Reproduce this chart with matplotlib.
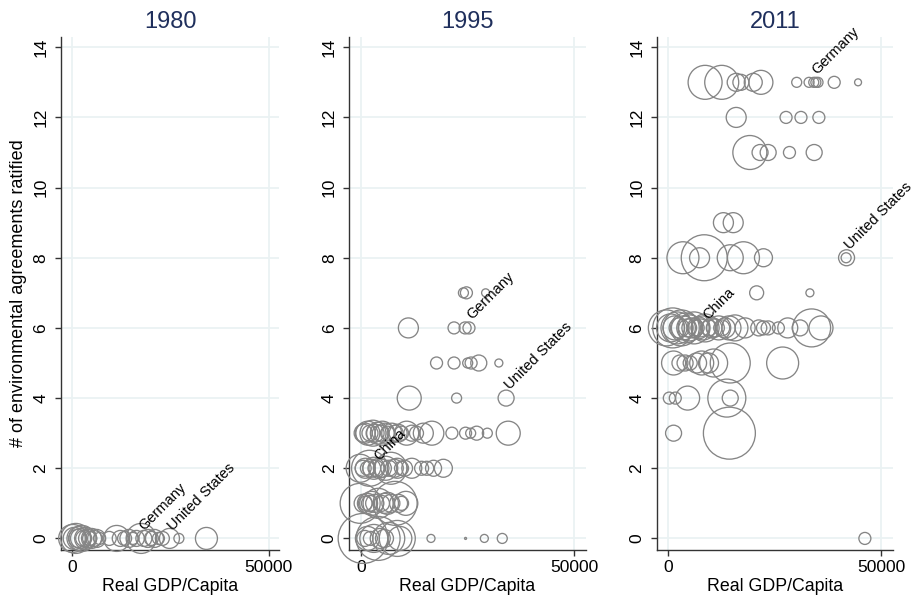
import numpy as np
import matplotlib
matplotlib.use("Agg")
import matplotlib.pyplot as plt

plt.rcParams['font.family'] = ['Liberation Sans', 'DejaVu Sans']

# GDP per capita (thousands), agreements ratified, bubble weight
years = ["1980", "1995", "2011"]

gdp80 = [0.2, 0.6, 1.0, 1.4, 1.8, 2.2, 2.6, 3.0, 3.5, 4.0, 4.5, 5.0, 5.6, 6.3, 7.0,
         9.5, 11.4, 12.3, 13.4, 14.5, 15.5, 16.4, 17.6, 18.3, 19.3, 20.2, 21.0,
         22.0, 23.0, 24.8, 27.2, 34.2]
agr80 = [0] * len(gdp80)
w80 = [196, 121, 225, 81, 144, 100, 169, 64, 121, 81, 49, 100, 64, 81, 36,
       49, 169, 64, 49, 81, 36, 64, 225, 64, 81, 49, 81, 36, 49, 100, 25, 121]

gdp95 = [24.0, 24.7, 29.2,
         11.1, 21.8, 24.4, 25.3,
         17.7, 21.8, 25.0, 25.8, 27.6, 32.3,
         11.3, 22.4, 34.0,
         0.5, 1.0, 1.6, 2.1, 2.8, 3.3, 3.9, 4.5, 5.0, 5.6, 6.2, 7.2, 8.0, 8.7,
         9.5, 10.7, 11.9, 13.0, 14.6, 16.6, 21.3, 24.5, 25.7, 27.1, 29.6, 34.5,
         -0.2, 0.5, 1.0, 1.5, 2.0, 2.5, 3.0, 3.5, 4.2, 5.0, 5.8, 6.5, 7.0, 7.8,
         8.5, 9.5, 10.2, 11.9, 14.2, 15.4, 17.0, 19.3,
         -0.2, 0.5, 1.0, 1.5, 2.0, 2.5, 3.2, 4.0, 4.8, 5.5, 6.2, 7.0, 8.0, 8.8,
         9.5, 10.5,
         0.5, 0.9, 1.5, 2.2, 3.0, 4.0, 4.5, 5.5, 6.5, 8.5, 9.1, 16.4, 24.5,
         28.9, 33.1]
agr95 = ([7] * 3 + [6] * 4 + [5] * 6 + [4] * 3 + [3] * 26 + [2] * 22
         + [1] * 16 + [0] * 15)
w95 = [25, 36, 16,
       100, 36, 36, 36,
       36, 36, 25, 36, 64, 16,
       144, 25, 64,
       81, 100, 144, 64, 169, 81, 121, 64, 144, 100, 49, 100, 64, 81,
       49, 144, 64, 49, 100, 144, 36, 36, 25, 49, 25, 144,
       196, 64, 100, 49, 324, 81, 121, 64, 100, 81, 144, 64, 256, 81,
       100, 49, 64, 100, 49, 49, 64, 81,
       400, 81, 49, 100, 64, 144, 81, 225, 64, 100, 121, 81, 484, 81,
       49, 144,
       625, 64, 144, 49, 196, 484, 100, 81, 256, 324, 144, 16, 1,
       16, 25]

gdp11 = [8.6, 12.5, 15.9, 17.0, 19.9, 21.7, 30.1, 33.0, 34.1, 34.6, 35.1, 38.9, 44.5,
         15.9, 27.6, 31.1, 35.3,
         19.1, 21.5, 23.4, 28.4, 34.2,
         12.9, 15.2,
         3.4, 7.3, 8.4, 14.5, 17.6, 22.3, 41.7, 41.8,
         20.7, 33.2,
         -0.5, 0.5, 1.0, 1.5, 2.0, 2.5, 3.0, 3.5, 4.0, 4.5, 5.0, 5.5, 6.0, 6.5,
         7.0, 7.5, 8.2, 8.6, 9.5, 10.2, 11.0, 11.8, 12.5, 13.3, 14.2,
         15.6, 18.0, 21.2, 22.3, 23.4, 25.8, 28.0, 30.9, 33.6, 35.8,
         1.2, 2.7, 3.9, 5.1, 6.6, 7.8, 9.4, 10.6, 14.5, 26.8,
         0.2, 1.6, 4.5, 13.7, 14.5,
         1.2, 14.3,
         46.1]
agr11 = ([13] * 13 + [12] * 4 + [11] * 5 + [9] * 2 + [8] * 8 + [7] * 2
         + [6] * 35 + [5] * 10 + [4] * 5 + [3] * 2 + [0])
w11 = [289, 289, 81, 64, 81, 144, 25, 25, 25, 25, 25, 36, 12,
       100, 36, 36, 36,
       289, 64, 64, 36, 64,
       100, 100,
       256, 100, 529, 169, 256, 81, 25, 64,
       49, 16,
       324, 196, 400, 144, 256, 100, 324, 144, 225, 81, 169, 100, 256, 64,
       121, 81, 144, 196, 64, 100, 81, 144, 64, 100, 144,
       169, 100, 64, 49, 49, 36, 100, 64, 361, 144,
       144, 64, 64, 49, 100, 144, 100, 196, 400, 256,
       36, 36, 144, 361, 64,
       64, 676,
       36]

# labelled countries per panel
lab80 = [("Germany", 17.6, 0), ("United States", 24.8, 0)]
lab95 = [("China", 3.5, 2), ("Germany", 25.3, 6), ("United States", 34.0, 4)]
lab11 = [("China", 8.6, 6), ("Germany", 34.1, 13), ("United States", 41.8, 8)]

panels = [(gdp80, agr80, w80, lab80),
          (gdp95, agr95, w95, lab95),
          (gdp11, agr11, w11, lab11)]

fig = plt.figure(figsize=(9.11, 6.04), dpi=100)
boxes = [[0.067, 0.0894, 0.2393, 0.8498],
         [0.3834, 0.0894, 0.2595, 0.8498],
         [0.7209, 0.0894, 0.2591, 0.8498]]

for i, (gx, gy, gw, labs) in enumerate(panels):
    ax = fig.add_axes(boxes[i])
    x = np.array(gx) * 1000
    ax.scatter(x, gy, s=np.array(gw) * 2.07, facecolors='none',
               edgecolors='#858585', linewidths=0.95, zorder=3, clip_on=False)
    for name, lx, ly in labs:
        ax.annotate(name, (lx * 1000, ly), xytext=(4, 4), textcoords='offset points',
                    rotation=45, rotation_mode='anchor', ha='left', va='bottom',
                    fontsize=10.5, color='black', zorder=4)
    ax.set_xlim(-2750, 52650)
    ax.set_ylim(-0.33, 14.3)
    ax.set_xticks([0, 50000])
    ax.set_xticklabels(["0", "50000"])
    ax.set_yticks(range(0, 15, 2))
    ax.set_yticklabels([str(v) for v in range(0, 15, 2)], rotation=90, va='center')
    ax.grid(True, color='#eaf2f3', lw=1.3, zorder=0)
    ax.set_axisbelow(True)
    for sp in ['top', 'right']:
        ax.spines[sp].set_visible(False)
    for sp in ['left', 'bottom']:
        ax.spines[sp].set_color('#333333')
        ax.spines[sp].set_linewidth(1.0)
    ax.tick_params(axis='both', labelsize=12.5, length=4, width=1.0, color='#333333')
    ax.tick_params(axis='y', pad=5)
    ax.tick_params(axis='x', pad=3)
    ax.set_xlabel("Real GDP/Capita", fontsize=12.8, labelpad=2)
    ax.set_title(years[i], fontsize=17, color='#1f2f5c', pad=6)
    if i == 0:
        ax.set_ylabel("# of environmental agreements ratified", fontsize=13, labelpad=5)

fig.savefig("out.png", dpi=100)
